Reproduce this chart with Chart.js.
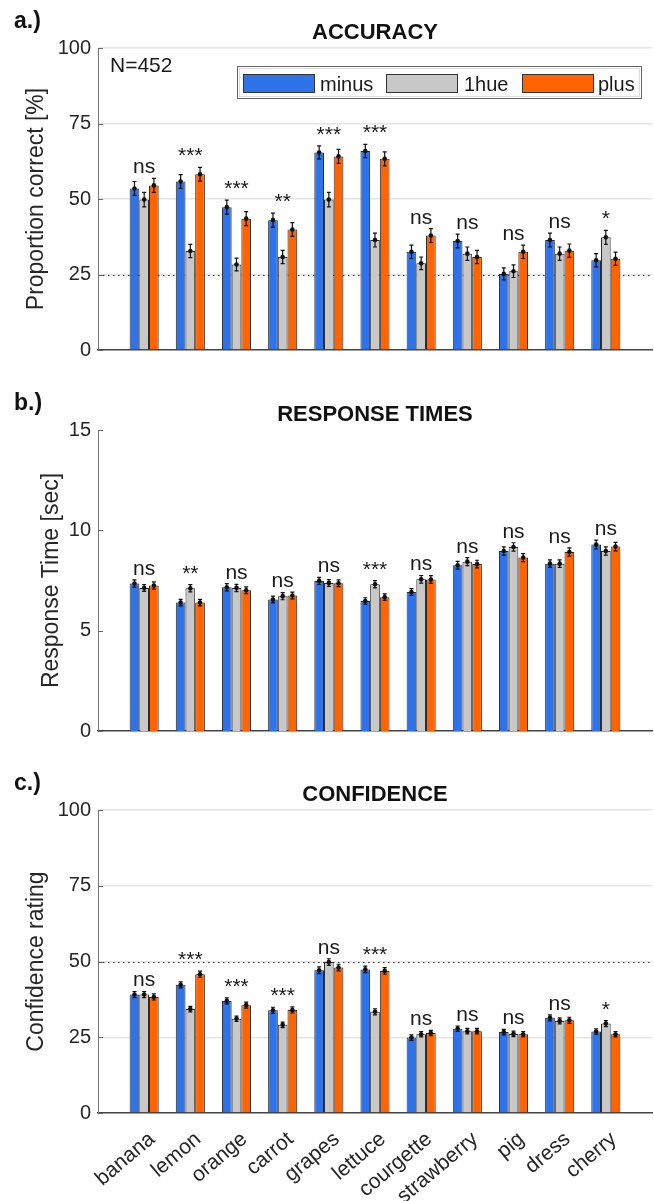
<!DOCTYPE html>
<html>
<head>
<meta charset="utf-8">
<script src="https://cdn.jsdelivr.net/npm/chart.js@4.4.1/dist/chart.umd.min.js"></script>
<style>
    body { margin: 0; background: #fff; width: 654px; height: 1201px; overflow: hidden; }
    .panel { position: absolute; left: 0; }
</style>
</head>
<body>
<div class="panel" style="top:0"><canvas id="accChart" width="654" height="380"></canvas></div>
<div class="panel" style="top:380px"><canvas id="rtChart" width="654" height="380"></canvas></div>
<div class="panel" style="top:760px"><canvas id="confChart" width="654" height="441"></canvas></div>

<script>
const categories = ['banana', 'lemon', 'orange', 'carrot', 'grapes', 'lettuce', 'courgette', 'strawberry', 'pig', 'dress', 'cherry'];
const seriesNames = ['minus', '1hue', 'plus'];
const seriesColors = ['#2e73e9', '#c8c8c8', '#ff6400'];

// Accuracy (% correct)
const accMinus = [53.5, 55.8, 47.3, 43.0, 65.4, 65.9, 32.5, 36.1, 25.2, 36.4, 29.7];
const accHue   = [49.8, 32.8, 28.3, 30.8, 49.8, 36.4, 28.7, 31.9, 26.1, 31.9, 37.3];
const accPlus  = [54.5, 58.2, 43.5, 39.9, 64.1, 63.3, 37.9, 30.8, 32.5, 32.9, 30.2];
const accErrMinus = [2.3, 2.3, 2.3, 2.3, 2.2, 2.2, 2.2, 2.3, 2.0, 2.3, 2.2];
const accErrHue   = [2.4, 2.2, 2.1, 2.2, 2.4, 2.3, 2.1, 2.2, 2.1, 2.2, 2.3];
const accErrPlus  = [2.3, 2.3, 2.3, 2.3, 2.3, 2.3, 2.3, 2.2, 2.2, 2.2, 2.2];
const accSig = ['ns', '***', '***', '**', '***', '***', 'ns', 'ns', 'ns', 'ns', '*'];
const accTicks = [0, 25, 50, 75, 100];

// Response times (sec)
const rtMinus = [7.35, 6.40, 7.16, 6.55, 7.48, 6.48, 6.93, 8.26, 8.97, 8.34, 9.29];
const rtHue   = [7.13, 7.11, 7.13, 6.72, 7.38, 7.31, 7.56, 8.44, 9.17, 8.34, 8.97];
const rtPlus  = [7.25, 6.40, 7.01, 6.75, 7.36, 6.67, 7.55, 8.32, 8.64, 8.92, 9.19];
const rtErrMinus = [0.18, 0.16, 0.18, 0.17, 0.18, 0.16, 0.17, 0.19, 0.21, 0.19, 0.22];
const rtErrHue   = [0.17, 0.18, 0.18, 0.18, 0.17, 0.18, 0.19, 0.20, 0.21, 0.19, 0.21];
const rtErrPlus  = [0.18, 0.16, 0.17, 0.17, 0.17, 0.16, 0.19, 0.19, 0.20, 0.21, 0.21];
const rtSig = ['ns', '**', 'ns', 'ns', 'ns', '***', 'ns', 'ns', 'ns', 'ns', 'ns'];
const rtTicks = [0, 5, 10, 15];

// Confidence rating
const confMinus = [39.1, 42.3, 37.0, 33.9, 47.1, 47.4, 24.9, 27.8, 26.7, 31.4, 26.9];
const confHue   = [39.1, 34.3, 31.1, 29.1, 49.8, 33.4, 26.0, 27.0, 26.1, 30.4, 29.5];
const confPlus  = [38.3, 45.8, 35.6, 34.0, 48.0, 46.9, 26.4, 27.0, 26.0, 30.6, 26.0];
const confErrMinus = [1.0, 1.0, 1.0, 1.0, 1.1, 1.1, 0.9, 0.9, 0.9, 1.0, 0.9];
const confErrHue   = [1.0, 0.9, 0.9, 0.9, 1.1, 1.0, 0.9, 0.9, 0.9, 1.0, 1.0];
const confErrPlus  = [1.0, 1.0, 1.0, 1.0, 1.1, 1.1, 0.9, 0.9, 0.9, 1.0, 0.9];
const confSig = ['ns', '***', '***', '***', 'ns', '***', 'ns', 'ns', 'ns', 'ns', '*'];
const confTicks = [0, 25, 50, 75, 100];

const FONT = '"Liberation Sans", Arial, Helvetica, sans-serif';
Chart.defaults.font.family = FONT;
Chart.defaults.color = '#262626';

// per-canvas extras for the decoration plugin
const panelInfo = {};

const decorPlugin = {
    id: 'panelDecor',
    beforeDatasetsDraw(chart) {
        const info = panelInfo[chart.canvas.id];
        const { ctx, chartArea } = chart;
        const y = chart.scales.y;
        if (info.refLine != null) {
            const py = Math.round(y.getPixelForValue(info.refLine)) + 0.5;
            ctx.save();
            ctx.setLineDash([1.5, 3.5]);
            ctx.strokeStyle = '#333';
            ctx.lineWidth = 1.2;
            ctx.beginPath();
            ctx.moveTo(chartArea.left, py);
            ctx.lineTo(chartArea.right, py);
            ctx.stroke();
            ctx.restore();
        }
    },
    afterDatasetsDraw(chart) {
        const info = panelInfo[chart.canvas.id];
        const { ctx, chartArea } = chart;
        const y = chart.scales.y;
        const x = chart.scales.x;

        // error bars + mean markers
        ctx.save();
        ctx.strokeStyle = '#111';
        ctx.fillStyle = '#111';
        ctx.lineWidth = 1.2;
        chart.data.datasets.forEach((ds, d) => {
            const meta = chart.getDatasetMeta(d);
            meta.data.forEach((bar, i) => {
                const v = ds.data[i].y;
                const e = info.errs[d][i];
                const yTop = y.getPixelForValue(v + e);
                const yBot = y.getPixelForValue(v - e);
                const bx = bar.x;
                ctx.beginPath();
                ctx.moveTo(bx, yTop); ctx.lineTo(bx, yBot);
                ctx.moveTo(bx - 2, yTop); ctx.lineTo(bx + 2, yTop);
                ctx.moveTo(bx - 2, yBot); ctx.lineTo(bx + 2, yBot);
                ctx.stroke();
                ctx.beginPath();
                ctx.arc(bx, bar.y, 2.3, 0, Math.PI * 2);
                ctx.fill();
            });
        });
        ctx.restore();

        // significance labels
        ctx.save();
        ctx.font = '21px ' + FONT;
        ctx.fillStyle = '#1a1a1a';
        ctx.textAlign = 'center';
        ctx.textBaseline = 'alphabetic';
        info.sig.forEach((s, i) => {
            let top = Infinity;
            chart.data.datasets.forEach((ds, d) => {
                top = Math.min(top, y.getPixelForValue(ds.data[i].y + info.errs[d][i]));
            });
            ctx.fillText(s, x.getPixelForValue(i + 1), top - 5);
        });
        ctx.restore();

        // inward tick marks on the left axis
        ctx.save();
        ctx.strokeStyle = '#666';
        ctx.lineWidth = 1;
        info.ticks.forEach(t => {
            const py = Math.round(y.getPixelForValue(t)) + 0.5;
            ctx.beginPath();
            ctx.moveTo(chartArea.left, py);
            ctx.lineTo(chartArea.left + 5, py);
            ctx.stroke();
        });
        ctx.restore();
    },
    afterDraw(chart) {
        const info = panelInfo[chart.canvas.id];
        const { ctx, chartArea } = chart;
        ctx.save();
        ctx.fillStyle = '#111';
        ctx.font = 'bold 22px ' + FONT;
        ctx.textAlign = 'center';
        ctx.fillText(info.title, (chartArea.left + chartArea.right) / 2, chartArea.top - 9);
        ctx.textAlign = 'left';
        ctx.font = 'bold 23px ' + FONT;
        ctx.fillText(info.letter, 14, chartArea.top - 20);

        if (info.nText) {
            ctx.font = '21px ' + FONT;
            ctx.fillStyle = '#1a1a1a';
            ctx.fillText(info.nText, chartArea.left + 12, chartArea.top + 24);
        }

        if (info.legend) {
            const lx = 237.5, ly = 66.5;
            ctx.fillStyle = '#fff';
            ctx.fillRect(lx, ly, 404, 32);
            ctx.strokeStyle = '#666';
            ctx.lineWidth = 1;
            ctx.strokeRect(lx, ly, 404, 32);
            ctx.strokeStyle = '#ddd';
            ctx.strokeRect(lx + 2, ly + 2, 400, 28);
            const swX = [243, 386, 522];
            const txX = [320, 464, 598];
            ctx.font = '20px ' + FONT;
            seriesNames.forEach((name, k) => {
                ctx.fillStyle = seriesColors[k];
                ctx.fillRect(swX[k] + 0.5, 74.5, 71, 18);
                ctx.strokeStyle = '#333';
                ctx.strokeRect(swX[k] + 0.5, 74.5, 71, 18);
                ctx.fillStyle = '#1a1a1a';
                ctx.fillText(name, txX[k], 91);
            });
        }
        ctx.restore();
    }
};

function makePanel(canvasId, opts) {
    panelInfo[canvasId] = {
        title: opts.title,
        letter: opts.letter,
        sig: opts.sig,
        errs: opts.errs,
        refLine: opts.refLine,
        ticks: opts.ticks,
        nText: opts.nText,
        legend: opts.legend
    };

    const datasets = opts.values.map((vals, k) => ({
        label: seriesNames[k],
        data: vals.map((v, i) => ({ x: i + 1, y: v })),
        backgroundColor: seriesColors[k],
        borderColor: '#2a2a2a',
        borderWidth: 1,
        categoryPercentage: 0.63,
        barPercentage: 1
    }));

    const ctx = document.getElementById(canvasId).getContext('2d');
    return new Chart(ctx, {
        type: 'bar',
        data: { datasets: datasets },
        plugins: [decorPlugin],
        options: {
            responsive: false,
            animation: false,
            devicePixelRatio: 1,
            layout: { padding: { top: opts.padTop, bottom: opts.padBottom, left: 0, right: 2 } },
            plugins: {
                legend: { display: false },
                title: { display: false },
                tooltip: { enabled: false }
            },
            scales: {
                x: {
                    type: 'linear',
                    min: 0,
                    max: 12,
                    offset: false,
                    afterBuildTicks: scale => {
                        scale.ticks = categories.map((c, i) => ({ value: i + 1 }));
                    },
                    afterFit: scale => { scale.height = opts.xHeight; },
                    grid: { display: false, drawTicks: false },
                    border: { color: '#444', width: 1.6 },
                    ticks: {
                        display: opts.showLabels,
                        autoSkip: false,
                        minRotation: 40,
                        maxRotation: 40,
                        padding: 14,
                        labelOffset: 8,
                        color: '#262626',
                        font: { size: 21 },
                        callback: v => categories[v - 1]
                    }
                },
                y: {
                    min: opts.ticks[0],
                    max: opts.ticks[opts.ticks.length - 1],
                    afterBuildTicks: scale => {
                        scale.ticks = opts.ticks.map(t => ({ value: t }));
                    },
                    afterFit: scale => { scale.width = 98; },
                    grid: {
                        display: opts.grid,
                        drawTicks: false,
                        color: c => (c.tick && c.tick.value === 0 ? 'rgba(0,0,0,0)' : '#e4e4e4'),
                        lineWidth: 1.5
                    },
                    border: { color: '#777', width: 1 },
                    ticks: {
                        padding: 7,
                        color: '#262626',
                        font: { size: 20 }
                    },
                    title: {
                        display: true,
                        text: opts.yLabel,
                        color: '#262626',
                        font: { size: 23 },
                        padding: { top: opts.yTitlePad, bottom: 0 }
                    }
                }
            }
        }
    });
}

makePanel('accChart', {
    title: 'ACCURACY',
    letter: 'a.)',
    yLabel: 'Proportion correct [%]',
    values: [accMinus, accHue, accPlus],
    errs: [accErrMinus, accErrHue, accErrPlus],
    sig: accSig,
    ticks: accTicks,
    refLine: 25,
    grid: true,
    nText: 'N=452',
    legend: true,
    padTop: 48,
    padBottom: 30,
    xHeight: 0,
    showLabels: false,
    yTitlePad: 23
});

makePanel('rtChart', {
    title: 'RESPONSE TIMES',
    letter: 'b.)',
    yLabel: 'Response Time [sec]',
    values: [rtMinus, rtHue, rtPlus],
    errs: [rtErrMinus, rtErrHue, rtErrPlus],
    sig: rtSig,
    ticks: rtTicks,
    refLine: null,
    grid: false,
    nText: null,
    legend: false,
    padTop: 50,
    padBottom: 29,
    xHeight: 0,
    showLabels: false,
    yTitlePad: 38
});

makePanel('confChart', {
    title: 'CONFIDENCE',
    letter: 'c.)',
    yLabel: 'Confidence rating',
    values: [confMinus, confHue, confPlus],
    errs: [confErrMinus, confErrHue, confErrPlus],
    sig: confSig,
    ticks: confTicks,
    refLine: 50,
    grid: true,
    nText: null,
    legend: false,
    padTop: 50,
    padBottom: 0,
    xHeight: 88,
    showLabels: true,
    yTitlePad: 23
});
</script>
</body>
</html>
